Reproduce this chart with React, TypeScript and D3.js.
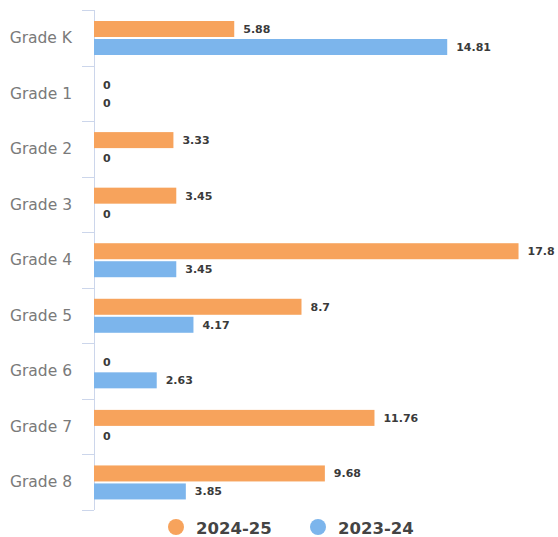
import React, { useEffect, useRef } from 'react'
import * as d3 from 'd3'

const width = 558
const height = 537

const categories = ['Grade K', 'Grade 1', 'Grade 2', 'Grade 3', 'Grade 4', 'Grade 5', 'Grade 6', 'Grade 7', 'Grade 8']
const seriesNames = ['2024-25', '2023-24']
const values2024 = [5.88, 0, 3.33, 3.45, 17.8, 8.7, 0, 11.76, 9.68]
const values2023 = [14.81, 0, 0, 0, 3.45, 4.17, 2.63, 0, 3.85]
const colors = ['#f7a35c', '#7cb5ec']

export default function App() {
  const svgRef = useRef<SVGSVGElement>(null)

  useEffect(() => {
    document.body.style.margin = '0'
    const svg = d3.select(svgRef.current)
    svg.selectAll('*').remove()

    const x = d3.scaleLinear().domain([0, 18]).range([94, 523.3])
    const y = d3.scaleBand<string>().domain(categories).range([10, 510])
    const barH = 16
    const gap = 2
    const offset = 11

    // axis line + ticks at band edges
    svg.append('line')
      .attr('x1', 94.5).attr('x2', 94.5)
      .attr('y1', 10).attr('y2', 510)
      .attr('stroke', '#ccd6eb')
    const edges = categories.map((c) => y(c) as number).concat([510])
    svg.selectAll('line.tick').data(edges).enter().append('line')
      .attr('class', 'tick')
      .attr('x1', 82).attr('x2', 94)
      .attr('y1', (d) => Math.round(d) + 0.5).attr('y2', (d) => Math.round(d) + 0.5)
      .attr('stroke', '#ccd6eb')

    // category labels
    svg.selectAll('text.cat').data(categories).enter().append('text')
      .attr('class', 'cat')
      .attr('x', 72)
      .attr('y', (d) => (y(d) as number) + offset + barH + gap / 2 + 5)
      .attr('text-anchor', 'end')
      .attr('font-family', 'DejaVu Sans')
      .attr('font-size', '15.5px')
      .attr('fill', '#7a7a7a')
      .text((d) => d)

    const series = [values2024, values2023]
    series.forEach((vals, si) => {
      const g = svg.append('g')
      const data = categories.map((c, i) => ({ c, v: vals[i] }))
      g.selectAll('rect').data(data).enter().append('rect')
        .attr('x', x(0))
        .attr('y', (d) => (y(d.c) as number) + offset + si * (barH + gap))
        .attr('width', (d) => x(d.v) - x(0))
        .attr('height', barH)
        .attr('fill', colors[si])
      g.selectAll('text').data(data).enter().append('text')
        .attr('x', (d) => x(d.v) + 9)
        .attr('y', (d) => (y(d.c) as number) + offset + si * (barH + gap) + barH / 2 + 4)
        .attr('font-family', 'DejaVu Sans')
        .attr('font-weight', 'bold')
        .attr('font-size', '11px')
        .attr('fill', '#3a3a3a')
        .text((d) => String(d.v))
    })

    // legend
    const legendX = [176, 318]
    seriesNames.forEach((name, i) => {
      svg.append('circle')
        .attr('cx', legendX[i]).attr('cy', 527).attr('r', 8)
        .attr('fill', colors[i])
      svg.append('text')
        .attr('x', legendX[i] + 20).attr('y', 533.5)
        .attr('font-family', 'DejaVu Sans')
        .attr('font-weight', 'bold')
        .attr('font-size', '16.5px')
        .attr('fill', '#444')
        .text(name)
    })
  }, [])

  return <svg ref={svgRef} width={width} height={height} style={{ display: 'block', background: '#fff' }} />
}
